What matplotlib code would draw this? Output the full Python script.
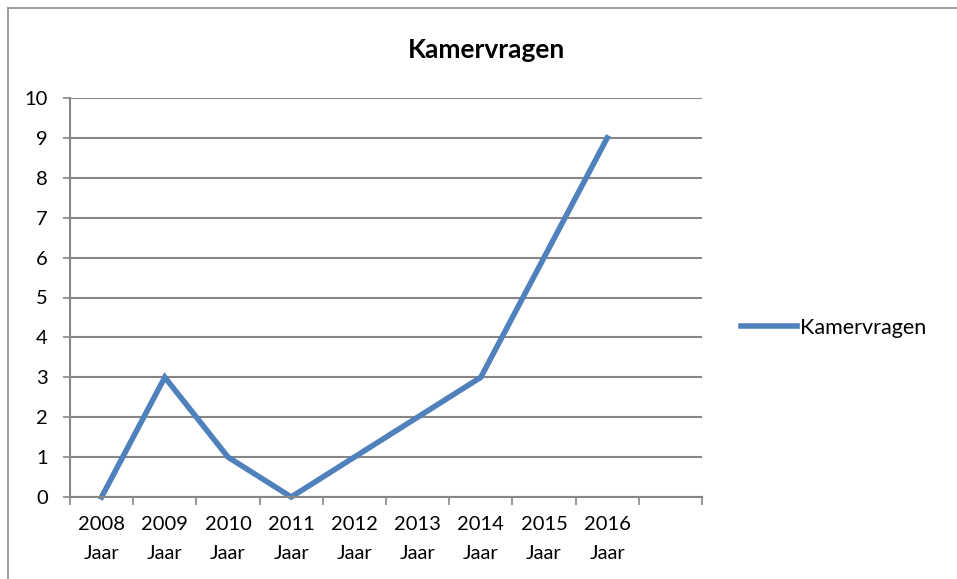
import matplotlib
matplotlib.use("Agg")
import matplotlib.pyplot as plt
from matplotlib.lines import Line2D

# data
years = ["2008", "2009", "2010", "2011", "2012", "2013", "2014", "2015", "2016", ""]
values = [0, 3, 1, 0, 1, 2, 3, 6, 9]
series_name = "Kamervragen"

BLUE = "#4F81BD"
GRAY = "#868686"
W, H = 957, 579

plt.rcParams["font.family"] = ["Lato", "DejaVu Sans"]

fig = plt.figure(figsize=(W / 100, H / 100), dpi=100)
fig.patch.set_facecolor("white")

# chart border (top and left edges visible)
fig.add_artist(Line2D([8 / W, 1], [1 - 8 / H, 1 - 8 / H], color="#8c8c8c", lw=1.2))
fig.add_artist(Line2D([8 / W, 8 / W], [0, 1 - 8 / H], color="#8c8c8c", lw=1.2))

ax = fig.add_axes([70 / W, (H - 497) / H, 632 / W, 399 / H])

x = list(range(len(values)))
ax.plot(x, values, color=BLUE, lw=4.0, solid_joinstyle="miter", clip_on=False,
        label=series_name)

ax.set_xlim(-0.5, len(years) - 0.5)
ax.set_ylim(0, 10)

ax.set_yticks(range(0, 11))
ax.yaxis.grid(True, color=GRAY, lw=1.5)
ax.set_axisbelow(True)

# category boundaries as major ticks, labels at centers
ax.set_xticks([i - 0.5 for i in range(len(years) + 1)])
ax.set_xticklabels([])
ax.set_xticks(range(len(years)), minor=True)
ax.set_xticklabels([f"{y}\nJaar" if y else "" for y in years], minor=True,
                   linespacing=1.8)
ax.tick_params(axis="x", which="major", length=6, color=GRAY, width=1.2)
ax.tick_params(axis="x", which="minor", length=0, pad=14, labelsize=14.5)
ax.tick_params(axis="y", length=5, color=GRAY, width=1.2, pad=11, labelsize=14.5)

for s in ["top", "right"]:
    ax.spines[s].set_visible(False)
for s in ["left", "bottom"]:
    ax.spines[s].set_color(GRAY)
    ax.spines[s].set_linewidth(1.5)

fig.text(487 / W, 1 - 50 / H, "Kamervragen", ha="center", va="center",
         fontsize=19, fontweight="bold")

fig.legend(loc="center left", bbox_to_anchor=(741 / W, 1 - 328 / H),
           frameon=False, fontsize=15.5, handlelength=2.6, handletextpad=0.15,
           borderpad=0, borderaxespad=0)

fig.savefig("out.png", dpi=100, facecolor="white")
